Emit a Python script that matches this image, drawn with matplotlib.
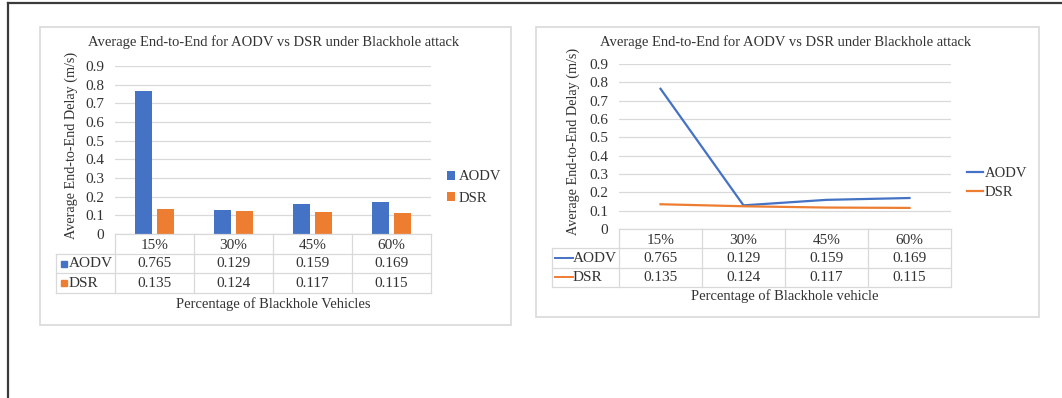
import matplotlib.pyplot as plt
from matplotlib.patches import Rectangle
from matplotlib.lines import Line2D

# data shown in both charts
categories = ['15%', '30%', '45%', '60%']
aodv = [0.765, 0.129, 0.159, 0.169]
dsr = [0.135, 0.124, 0.117, 0.115]
series_names = ['AODV', 'DSR']
yticks = [0, 0.1, 0.2, 0.3, 0.4, 0.5, 0.6, 0.7, 0.8, 0.9]
ytick_labels = ['0', '0.1', '0.2', '0.3', '0.4', '0.5', '0.6', '0.7', '0.8', '0.9']
title = 'Average End-to-End for AODV vs DSR under Blackhole attack'
ylabel = 'Average End-to-End Delay (m/s)'
xlabel_bar = 'Percentage of Blackhole Vehicles'
xlabel_line = 'Percentage of Blackhole vehicle'

BLUE = '#4472C4'
ORANGE = '#ED7D31'
GRID = '#D9D9D9'
TEXT = '#333333'

W, H = 1062, 398
plt.rcParams['font.family'] = ['Liberation Serif', 'DejaVu Serif']

fig = plt.figure(figsize=(W / 100, H / 100), dpi=100)


def frac(x0, y0, x1, y1):
    # pixel box (top-left origin) -> figure fraction rect
    return [x0 / W, 1 - y1 / H, (x1 - x0) / W, (y1 - y0) / H]


def draw_chart(kind, box, plot, table_left, table_bottom, title_x, xlabel, xlabel_pos,
               ylabel_x, legend_pos, legend_gap):
    bx0, by0, bx1, by1 = box
    fig.patches.append(Rectangle((bx0 / W, 1 - by1 / H), (bx1 - bx0) / W, (by1 - by0) / H,
                                 transform=fig.transFigure, fill=False,
                                 edgecolor=GRID, lw=1.2))

    px0, py0, px1, py1 = plot
    ax = fig.add_axes(frac(px0, py0, px1, py1))
    ax.set_xlim(-0.5, 3.5)
    ax.set_ylim(0, 0.9)
    for s in ax.spines.values():
        s.set_visible(False)
    ax.set_xticks([])
    ax.set_yticks(yticks)
    ax.set_yticklabels(ytick_labels)
    ax.tick_params(axis='y', length=0, pad=8, labelsize=11, labelcolor=TEXT)
    ax.yaxis.grid(True, color=GRID, lw=0.9)
    ax.set_axisbelow(True)
    ax.patch.set_alpha(0)

    xs = list(range(len(categories)))
    legend_kw = dict(loc='center left',
                     bbox_to_anchor=(legend_pos[0] / W, 1 - legend_pos[1] / H),
                     bbox_transform=fig.transFigure, frameon=False, fontsize=10.5,
                     borderaxespad=0, borderpad=0, labelspacing=legend_gap)
    if kind == 'bar':
        w = 0.22
        h1 = ax.bar([x - 0.14 for x in xs], aodv, w, color=BLUE, label=series_names[0])
        h2 = ax.bar([x + 0.14 for x in xs], dsr, w, color=ORANGE, label=series_names[1])
        leg = ax.legend(handles=[h1, h2], handlelength=0.55, handleheight=0.55,
                        handletextpad=0.25, **legend_kw)
    else:
        l1, = ax.plot(xs, aodv, color=BLUE, lw=1.6, label=series_names[0])
        l2, = ax.plot(xs, dsr, color=ORANGE, lw=1.6, label=series_names[1])
        leg = ax.legend(handles=[l1, l2], handlelength=1.1, handletextpad=0.1, **legend_kw)
    for t in leg.get_texts():
        t.set_color(TEXT)

    # data table under the plot, sharing the category scale
    ppu = (px1 - px0) / 4.0
    lo = -0.5 - (px0 - table_left) / ppu
    tab = fig.add_axes(frac(table_left, py1, px1, table_bottom))
    tab.set_xlim(lo, 3.5)
    tab.set_ylim(3, 0)
    tab.axis('off')
    for b in [-0.5, 0.5, 1.5, 2.5, 3.5]:
        tab.plot([b, b], [0, 3], color=GRID, lw=0.9, clip_on=False)
    tab.plot([lo, lo], [1, 3], color=GRID, lw=0.9, clip_on=False)
    tab.plot([-0.5, 3.5], [0, 0], color=GRID, lw=0.9, clip_on=False)
    for r in [1, 2, 3]:
        tab.plot([lo, 3.5], [r, r], color=GRID, lw=0.9, clip_on=False)
    for i, c in enumerate(categories):
        tab.text(i, 0.6, c, ha='center', va='center', fontsize=11, color=TEXT)
        tab.text(i, 1.5, f'{aodv[i]:.3f}', ha='center', va='center', fontsize=11, color=TEXT)
        tab.text(i, 2.5, f'{dsr[i]:.3f}', ha='center', va='center', fontsize=11, color=TEXT)
    key_w = (-0.5 - lo)
    for r, (name, col) in enumerate(zip(series_names, [BLUE, ORANGE]), start=1):
        if kind == 'bar':
            tab.plot([lo + key_w * 0.13], [r + 0.5], marker='s', ms=5, color=col,
                     linestyle='none', clip_on=False)
            tx = lo + key_w * 0.22
        else:
            tab.plot([lo + key_w * 0.04, lo + key_w * 0.31], [r + 0.5, r + 0.5],
                     color=col, lw=1.4, clip_on=False)
            tx = lo + key_w * 0.31
        tab.text(tx, r + 0.5, name, ha='left', va='center', fontsize=11, color=TEXT)

    fig.text(title_x / W, 1 - 42 / H, title, ha='center', va='center',
             fontsize=10.5, color=TEXT)
    fig.text(ylabel_x / W, 1 - ((py0 + py1) / 2 - 5) / H, ylabel, rotation=90,
             ha='center', va='center', fontsize=10.2, color=TEXT)
    fig.text(xlabel_pos[0] / W, 1 - xlabel_pos[1] / H, xlabel, ha='center', va='center',
             fontsize=10.5, color=TEXT)


draw_chart('bar', box=(40, 27, 511, 325), plot=(115, 66, 431, 234),
           table_left=56, table_bottom=293, title_x=274, xlabel=xlabel_bar,
           xlabel_pos=(273, 304), ylabel_x=71, legend_pos=(447, 187.5), legend_gap=0.55)
draw_chart('line', box=(536, 27, 1039, 317), plot=(619, 64, 951, 229),
           table_left=552, table_bottom=287, title_x=786, xlabel=xlabel_line,
           xlabel_pos=(785, 296), ylabel_x=573, legend_pos=(967, 183), legend_gap=0.4)

# page border of the screenshot
fig.add_artist(Line2D([7.5 / W, 1], [1 - 2.5 / H, 1 - 2.5 / H], color='#3a3a3a', lw=1.6,
                      transform=fig.transFigure))
fig.add_artist(Line2D([7.5 / W, 7.5 / W], [0, 1 - 2.5 / H], color='#3a3a3a', lw=1.6,
                      transform=fig.transFigure))

fig.savefig('out.png', dpi=100, facecolor='white')
